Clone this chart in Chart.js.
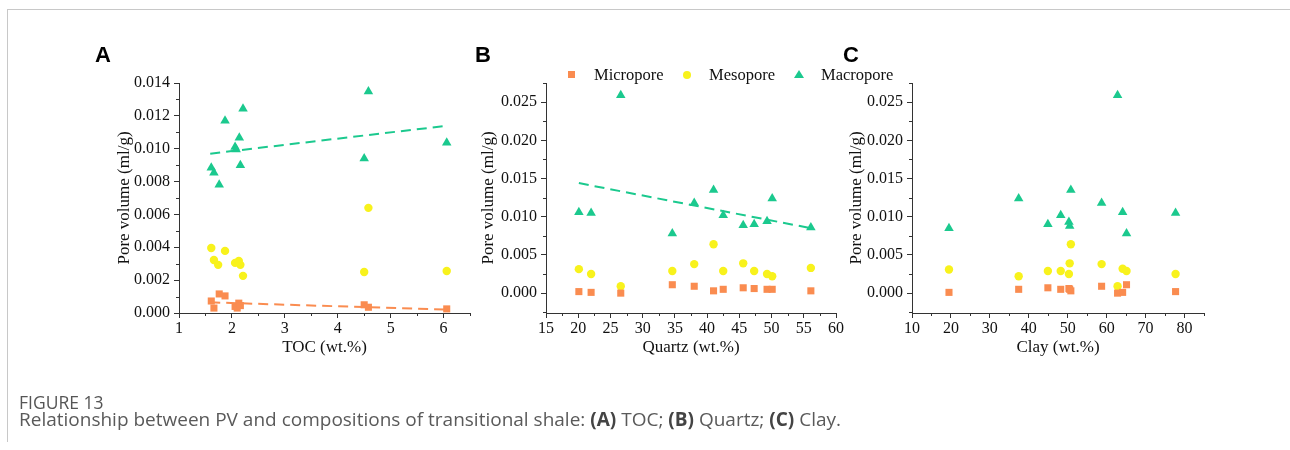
<!DOCTYPE html>
<html><head><meta charset="utf-8">
<script src="https://cdn.jsdelivr.net/npm/chart.js@4.4.0/dist/chart.umd.min.js"></script>
<style>
html,body{margin:0;padding:0;background:#fff;width:1290px;height:450px;overflow:hidden;}
body{position:relative;}
canvas.c{position:absolute;left:0;top:0;}
.frame{position:absolute;left:7px;top:9px;width:1300px;height:432px;border-left:1px solid #c8c8c8;border-top:1px solid #c8c8c8;}
.plab{position:absolute;top:44px;font-family:"Liberation Sans",Arial,sans-serif;font-weight:bold;font-size:22px;line-height:1;color:#000;}
.legt{position:absolute;top:65px;font-family:"Liberation Serif","Times New Roman",serif;font-size:16.5px;line-height:20px;color:#111;}
.sq{position:absolute;width:7px;height:7px;background:#FA8C50;}
.ci{position:absolute;width:8px;height:8px;border-radius:50%;background:#F8F21C;}
.tr{position:absolute;width:0;height:0;border-left:5px solid transparent;border-right:5px solid transparent;border-bottom:8px solid #1BC98E;}
.fig{position:absolute;left:19px;top:390px;font-family:"Open Sans","Noto Sans",sans-serif;font-size:17.5px;line-height:24px;color:#555;}
.cap{position:absolute;left:19px;top:407px;font-family:"Open Sans","Noto Sans",sans-serif;font-size:19px;line-height:24px;color:#5a5a5a;white-space:nowrap;}
.cap b{color:#444;}
</style>
</head><body>
<div class="frame"></div>
<canvas class="c" id="cA" width="1290" height="450"></canvas>
<canvas class="c" id="cB" width="1290" height="450"></canvas>
<canvas class="c" id="cC" width="1290" height="450"></canvas>
<div class="plab" style="left:95px">A</div>
<div class="plab" style="left:475px">B</div>
<div class="plab" style="left:843px">C</div>
<div class="sq" style="left:568px;top:71px"></div><div class="legt" style="left:594px">Micropore</div>
<div class="ci" style="left:683px;top:71px"></div><div class="legt" style="left:709px">Mesopore</div>
<div class="tr" style="left:794px;top:70px"></div><div class="legt" style="left:821px">Macropore</div>
<div class="fig">FIGURE 13</div>
<div class="cap">Relationship between PV and compositions of transitional shale: <b>(A)</b> TOC; <b>(B)</b> Quartz; <b>(C)</b> Clay.</div>
<script>
// ---------- Panel A: TOC ----------
const tocMicroX = [1.61,1.66,1.76,1.87,2.06,2.10,2.13,2.16,4.50,4.58,6.06];
const tocMicroY = [0.00073,0.00030,0.00116,0.00104,0.00040,0.00030,0.00060,0.00045,0.00050,0.00035,0.00025];
const tocMesoX  = [1.61,1.66,1.74,1.87,2.06,2.13,2.16,2.21,4.50,4.58,6.06];
const tocMesoY  = [0.00396,0.00323,0.00293,0.00378,0.00305,0.00317,0.00293,0.00226,0.00250,0.00640,0.00256];
const tocMacroX = [1.61,1.66,1.76,1.87,2.06,2.08,2.14,2.16,2.21,4.50,4.58,6.06];
const tocMacroY = [0.00884,0.00854,0.00780,0.01170,0.01010,0.00995,0.01067,0.00900,0.01244,0.00940,0.01348,0.01037];
const tocFitX = [1.59,6.07];
const tocMacroFitY = [0.0097,0.0114];
const tocMicroFitY = [0.00065,0.00020];
const tocTicksX = [1,2,3,4,5,6];
const tocTicksY = [0,0.002,0.004,0.006,0.008,0.010,0.012,0.014];

// ---------- Panel B: Quartz ----------
const qtzX = [20.1,22.0,26.6,34.6,38.0,41.0,42.5,45.6,47.3,49.3,50.1,56.1];
const qtzMicro = [0.0002,0.0001,0.0000,0.0011,0.0009,0.0003,0.0005,0.0007,0.0006,0.0005,0.0005,0.0003];
const qtzMeso  = [0.00314,0.0025,0.0009,0.0029,0.0038,0.0064,0.0029,0.0039,0.0029,0.0025,0.0022,0.0033];
const qtzMacro = [0.0106,0.0105,0.0259,0.0078,0.0118,0.0135,0.0102,0.0089,0.0090,0.0094,0.0124,0.0086];
const qtzFitX = [20.1,56.1];
const qtzMacroFitY = [0.0144,0.0085];
const qtzTicksX = [15,20,25,30,35,40,45,50,55,60];

// ---------- Panel C: Clay ----------
const clayX = [19.5,37.4,44.9,48.2,50.3,50.5,50.8,58.7,62.8,64.1,65.1,77.7];
const clayMicro = [0.0001,0.0005,0.0007,0.0005,0.0006,0.0005,0.0003,0.0009,0.0000,0.0001,0.0011,0.0002];
const clayMeso  = [0.0031,0.0022,0.0029,0.0029,0.0025,0.0039,0.0064,0.0038,0.0009,0.0032,0.0029,0.0025];
const clayMacro = [0.0085,0.0124,0.0090,0.0102,0.0093,0.0088,0.0135,0.0118,0.0259,0.0106,0.0078,0.0105];
const clayTicksX = [10,20,30,40,50,60,70,80];
const pvTicksY = [0,0.005,0.010,0.015,0.020,0.025];

const C_MICRO = '#FA8C50', C_MESO = '#F8F21C', C_MACRO = '#1BC98E';
const SERIF = '"Liberation Serif","Times New Roman",serif';
const zip = (xs, ys) => xs.map((x, i) => ({x, y: ys[i]}));
const range = (a, b, s) => { const r = []; for (let v = a; v <= b + 1e-9; v += s) r.push(+v.toFixed(6)); return r; };

const minorTicks = {
  id: 'minorTicks',
  afterDraw(chart, args, opts) {
    const ctx = chart.ctx, xs = chart.scales.x, ys = chart.scales.y, a = chart.chartArea;
    ctx.save(); ctx.strokeStyle = '#333'; ctx.lineWidth = 1;
    (opts.x || []).forEach(v => { const p = Math.round(xs.getPixelForValue(v)) + 0.5;
      ctx.beginPath(); ctx.moveTo(p, a.bottom); ctx.lineTo(p, a.bottom + 3); ctx.stroke(); });
    (opts.y || []).forEach(v => { const p = Math.round(ys.getPixelForValue(v)) + 0.5;
      ctx.beginPath(); ctx.moveTo(a.left, p); ctx.lineTo(a.left - 3, p); ctx.stroke(); });
    ctx.restore();
  }
};

function pts(label, data, shape, color, r) {
  return {type: 'scatter', label, data, pointStyle: shape, pointRadius: r, pointHoverRadius: r,
    backgroundColor: color, borderColor: color, pointBorderWidth: 0, showLine: false};
}
function fit(data, color) {
  return {type: 'line', data, borderColor: color, borderWidth: 2, borderDash: [10, 6],
    pointRadius: 0, showLine: true, fill: false, tension: 0};
}

function makeChart(id, o) {
  new Chart(document.getElementById(id), {
    type: 'scatter',
    data: {datasets: o.datasets},
    options: {
      responsive: false, animation: false, events: [],
      layout: {padding: {left: o.L - o.wy, top: 83, right: 1290 - o.R, bottom: 91.8}},
      plugins: {legend: {display: false}, tooltip: {enabled: false},
        minorTicks: {x: o.minorX, y: o.minorY}},
      scales: {
        x: {type: 'linear', min: o.xmin, max: o.xmax,
          afterBuildTicks: s => { s.ticks = o.ticksX.map(v => ({value: v})); },
          afterFit: s => { s.height = 45.2; },
          border: {display: true, color: '#333', width: 1},
          grid: {display: true, drawOnChartArea: false, drawTicks: true, tickLength: 5, color: '#333'},
          ticks: {font: {family: SERIF, size: 16}, color: '#111', padding: 1, maxRotation: 0, autoSkip: false,
            callback: v => String(v)},
          title: {display: true, text: o.xtitle, font: {family: SERIF, size: 17}, color: '#111', padding: 0}},
        y: {type: 'linear', min: o.ymin, max: o.ymax,
          afterBuildTicks: s => { s.ticks = o.ticksY.map(v => ({value: v})); },
          afterFit: s => { s.width = o.wy; },
          border: {display: true, color: '#333', width: 1},
          grid: {display: true, drawOnChartArea: false, drawTicks: true, tickLength: 5, color: '#333'},
          ticks: {font: {family: SERIF, size: 16}, color: '#111', padding: 4, autoSkip: false,
            callback: v => v.toFixed(3)},
          title: {display: true, text: 'Pore volume (ml/g)', font: {family: SERIF, size: 17}, color: '#111', padding: 0}}
      }
    },
    plugins: [minorTicks]
  });
}

makeChart('cA', {
  L: 179, R: 470, wy: 64.2, xmin: 1, xmax: 6.5, ymin: 0, ymax: 0.014,
  ticksX: tocTicksX, ticksY: tocTicksY, xtitle: 'TOC (wt.%)',
  minorX: range(1.5, 6.5, 1), minorY: range(0.001, 0.013, 0.002),
  datasets: [
    fit(zip(tocFitX, tocMacroFitY), C_MACRO),
    fit(zip(tocFitX, tocMicroFitY), C_MICRO),
    pts('Micropore', zip(tocMicroX, tocMicroY), 'rect', C_MICRO, 5),
    pts('Mesopore', zip(tocMesoX, tocMesoY), 'circle', C_MESO, 4.2),
    pts('Macropore', zip(tocMacroX, tocMacroY), 'triangle', C_MACRO, 5.5)
  ]
});
makeChart('cB', {
  L: 546, R: 836, wy: 67.2, xmin: 15, xmax: 60, ymin: -0.0026, ymax: 0.0275,
  ticksX: qtzTicksX, ticksY: pvTicksY, xtitle: 'Quartz (wt.%)',
  minorX: range(17.5, 57.5, 5), minorY: range(-0.0025, 0.0275, 0.005),
  datasets: [
    fit(zip(qtzFitX, qtzMacroFitY), C_MACRO),
    pts('Micropore', zip(qtzX, qtzMicro), 'rect', C_MICRO, 5),
    pts('Mesopore', zip(qtzX, qtzMeso), 'circle', C_MESO, 4.2),
    pts('Macropore', zip(qtzX, qtzMacro), 'triangle', C_MACRO, 5.5)
  ]
});
makeChart('cC', {
  L: 912, R: 1204, wy: 65.7, xmin: 10, xmax: 85, ymin: -0.0026, ymax: 0.0275,
  ticksX: clayTicksX, ticksY: pvTicksY, xtitle: 'Clay (wt.%)',
  minorX: range(15, 85, 10), minorY: range(-0.0025, 0.0275, 0.005),
  datasets: [
    pts('Micropore', zip(clayX, clayMicro), 'rect', C_MICRO, 5),
    pts('Mesopore', zip(clayX, clayMeso), 'circle', C_MESO, 4.2),
    pts('Macropore', zip(clayX, clayMacro), 'triangle', C_MACRO, 5.5)
  ]
});
</script>
</body></html>
